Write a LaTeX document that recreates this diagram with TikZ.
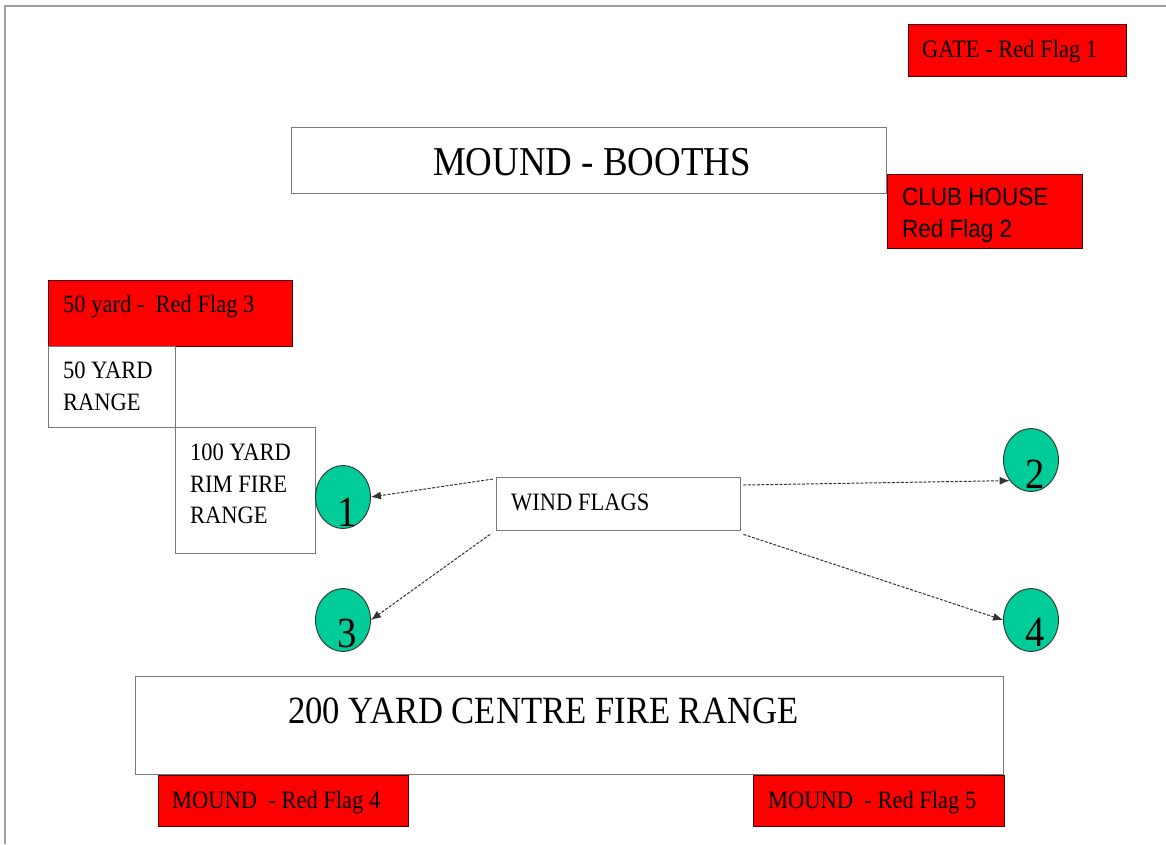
\documentclass[tikz,border=0pt]{standalone}
\usepackage{fontspec}
\setmainfont{Liberation Serif}[FakeStretch=0.9]
\newfontfamily\arialf{Liberation Sans}[FakeStretch=0.9]
\usetikzlibrary{arrows.meta,shapes.geometric}
\definecolor{windgreen}{RGB}{0,204,153}
\definecolor{flagred}{RGB}{255,0,0}
\definecolor{boxline}{RGB}{120,120,120}
\begin{document}
\begin{tikzpicture}[x=1pt,y=-1pt,
  box/.style={draw=boxline, line width=1.4pt, fill=white, inner sep=0pt, anchor=north west},
  flagbox/.style={draw=black!70!red, line width=1pt, fill=flagred, inner sep=0pt, anchor=north west},
  lbl/.style={inner sep=0pt, anchor=base west, text=black, font=\fontsize{25}{30}\selectfont},
  slbl/.style={inner sep=0pt, anchor=base west, text=black, font=\arialf\fontsize{25}{30}\selectfont},
  windflag/.style={ellipse, draw=black!80, line width=0.9pt, fill=windgreen, minimum width=55pt, minimum height=63pt, inner sep=0pt},
  digit/.style={inner sep=0pt, anchor=base, text=black, font=\fontsize{43}{50}\selectfont},
  conn/.style={draw=black!80, line width=1pt, dash pattern=on 3pt off 1.5pt, -{Latex[length=10pt,width=8pt]}}
]
\useasboundingbox (0,0) rectangle (1166,844);
% page border (left and top)
\draw[gray!75, line width=2pt] (5,844) -- (5,6) -- (1166,6);

% gate
\node[flagbox, minimum width=218pt, minimum height=52pt] (gate) at (908,24) {};
\node[lbl] (gatet) at (922,57) {GATE - Red Flag 1};

% mound booths
\node[box, minimum width=595pt, minimum height=66pt] (booths) at (291,127) {};
\node[inner sep=0pt, anchor=base, text=black, font=\fontsize{41}{48}\selectfont] (boothst) at (592,175) {MOUND - BOOTHS};

% club house
\node[flagbox, minimum width=195pt, minimum height=74pt] (club) at (887,174) {};
\node[slbl] (clubt1) at (902,205) {CLUB HOUSE};
\node[slbl] (clubt2) at (902,237) {Red Flag 2};

% 50 yard
\node[flagbox, minimum width=244pt, minimum height=66pt] (flag3) at (48,280) {};
\node[lbl] (flag3t) at (63,312) {50 yard -\ \ Red Flag 3};
\node[box, minimum width=127pt, minimum height=81pt] (r50) at (48,346) {};
\node[lbl] (r50t1) at (63,378) {50 YARD};
\node[lbl] (r50t2) at (63,410) {RANGE};

% 100 yard
\node[box, minimum width=140pt, minimum height=126pt] (r100) at (175,427) {};
\node[lbl] (r100t1) at (190,460) {100 YARD};
\node[lbl] (r100t2) at (190,492) {RIM FIRE};
\node[lbl] (r100t3) at (190,523) {RANGE};

% wind flags box
\node[box, minimum width=244pt, minimum height=53pt] (wf) at (496,477) {};
\node[lbl] (wft) at (511,510) {WIND FLAGS};

% wind flag circles
\node[windflag] (c1) at (343,497) {};
\node[windflag] (c2) at (1031,460) {};
\node[windflag] (c3) at (343,620) {};
\node[windflag] (c4) at (1031,620) {};
\node[digit] (d1) at (347,526) {1};
\node[digit] (d2) at (1035,488) {2};
\node[digit] (d3) at (347,647) {3};
\node[digit] (d4) at (1035,646) {4};

% connectors
\draw[conn] ([shift={(-3,2)}]wf.north west) -- (c1.east);
\draw[conn] ([shift={(-6,3)}]wf.south west) -- (c3.east);
\draw[conn] ([shift={(2,8)}]wf.north east) -- (c2.224);
\draw[conn] ([shift={(2,3)}]wf.south east) -- (c4.west);

% 200 yard
\node[box, minimum width=868pt, minimum height=98pt] (r200) at (135,676) {};
\node[inner sep=0pt, anchor=base west, text=black, font=\fontsize{38.5}{46}\selectfont] (r200t) at (288,723) {200 YARD CENTRE FIRE RANGE};

% mound flags
\node[flagbox, minimum width=250pt, minimum height=51pt] (flag4) at (158,775) {};
\node[lbl] (flag4t) at (172,808) {MOUND\ \ - Red Flag 4};
\node[flagbox, minimum width=251pt, minimum height=51pt] (flag5) at (753,775) {};
\node[lbl] (flag5t) at (768,808) {MOUND\ \ - Red Flag 5};
\end{tikzpicture}
\end{document}
